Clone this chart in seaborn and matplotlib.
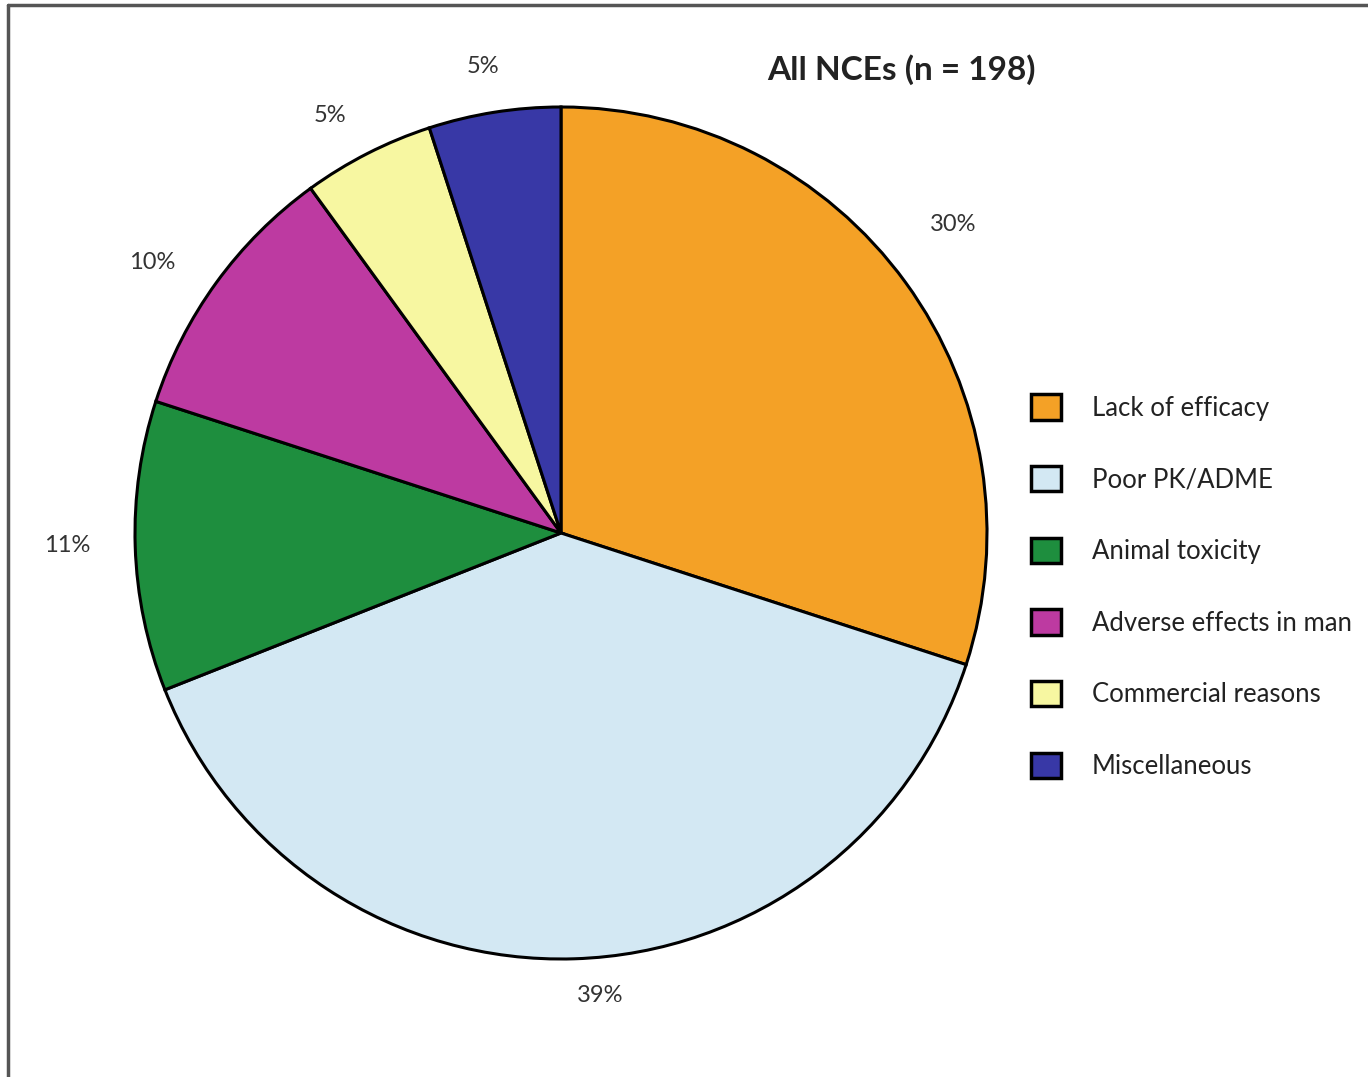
import matplotlib
matplotlib.use("Agg")
import matplotlib.pyplot as plt
from matplotlib.lines import Line2D
import numpy as np
import seaborn as sns

sns.set_theme(style="white")
plt.rcParams['font.family'] = ['Lato', 'DejaVu Sans']

categories = ["Lack of efficacy", "Poor PK/ADME", "Animal toxicity",
              "Adverse effects in man", "Commercial reasons", "Miscellaneous"]
shares = [30, 39, 11, 10, 5, 5]
colors = sns.color_palette(["#F4A126", "#D3E8F3", "#1E8E3E",
                            "#BD3AA1", "#F7F7A1", "#3838A6"])
title = "All NCEs (n = 198)"

# placement of each percentage label: distance in pie radii, angle nudge in degrees
label_dist = [1.17, 1.09, 1.16, 1.15, 1.12, 1.11]
label_nudge = [2.2, 3.0, -0.4, 2.5, 2.0, 0.5]

W, H = 1368, 1077
fig = plt.figure(figsize=(W / 100, H / 100), dpi=100)
fig.patch.set_facecolor("white")

# pie axes: centre and radius in pixels
cx, cy, R = 561, 533, 426
ax = fig.add_axes([(cx - R) / W, (H - cy - R) / H, 2 * R / W, 2 * R / H])
wedges, texts, autotexts = ax.pie(
    shares, colors=colors, startangle=90, counterclock=False,
    autopct=lambda p: f"{p:.0f}%", pctdistance=1.14,
    wedgeprops=dict(edgecolor="black", linewidth=2.2),
    textprops=dict(fontsize=17, color="#333333"))
for w, t, d, n in zip(wedges, autotexts, label_dist, label_nudge):
    a = np.deg2rad((w.theta1 + w.theta2) / 2 + n)
    t.set_position((d * np.cos(a), d * np.sin(a)))
ax.set_xlim(-1, 1)
ax.set_ylim(-1, 1)
ax.set_aspect("equal")
ax.axis("off")

fig.text(901 / W, 1 - 70 / H, title, ha="center", va="center",
         fontsize=24, fontweight="bold", color="#222222")

leg = fig.legend(wedges, categories, loc="upper left",
                 bbox_to_anchor=(1021 / W, 1 - 384 / H), frameon=False,
                 fontsize=18.5, handlelength=1.15, handleheight=1.15,
                 handletextpad=1.2, labelspacing=1.76, borderaxespad=0)
for t in leg.get_texts():
    t.set_color("#222222")
for h in leg.legend_handles:
    h.set_linewidth(2.5)

# frame lines along the top and left edges
fig.add_artist(Line2D([8 / W, 8 / W], [0, 1 - 5 / H], transform=fig.transFigure,
                      color="#555555", linewidth=2.5))
fig.add_artist(Line2D([8 / W, 1], [1 - 5 / H, 1 - 5 / H], transform=fig.transFigure,
                      color="#555555", linewidth=2.5))

fig.savefig("out.png", dpi=100, facecolor="white")
